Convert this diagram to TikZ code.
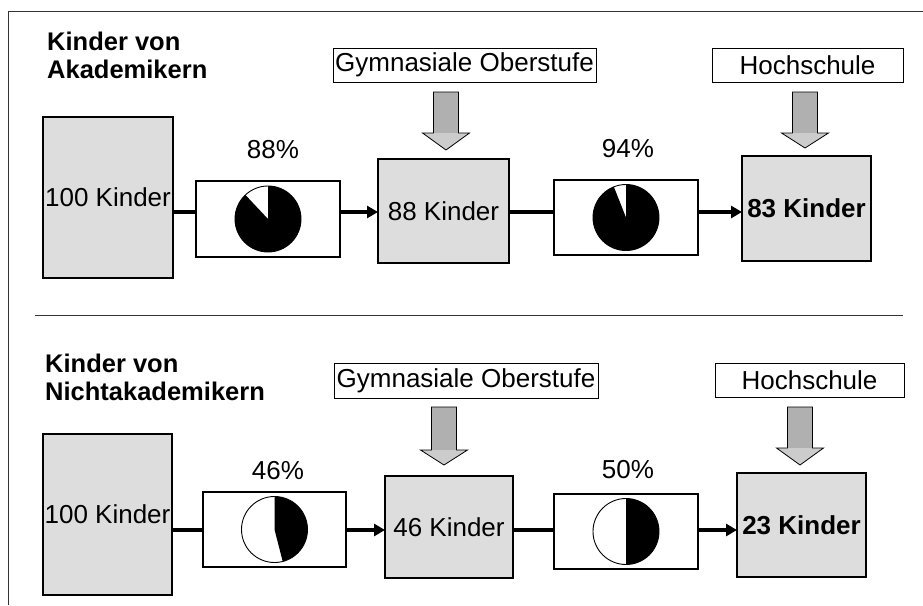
\documentclass[tikz,border=0pt]{standalone}
\usepackage{fontspec}
\setmainfont{Liberation Sans}
\usetikzlibrary{arrows.meta}
\tikzset{
  txt/.style={font=\fontsize{26}{29}\selectfont, inner sep=0pt},
  boldtxt/.style={font=\fontsize{26}{29}\selectfont\bfseries},
  titletxt/.style={font=\fontsize{25.5}{28}\selectfont\bfseries, inner sep=0pt, anchor=base west, align=left},
  graybox/.style={draw=black, line width=1.1pt, fill=gray!27, inner sep=0pt, outer sep=0pt, txt},
  piebox/.style={draw=black, line width=1.1pt, fill=white, inner sep=0pt, outer sep=0pt},
  labelbox/.style={draw=black, line width=1pt, fill=white, inner sep=0pt, outer sep=0pt, txt},
  conn/.style={line width=3.4pt, black},
  connarrow/.style={conn, -{Triangle[length=11pt,width=12pt]}},
  frame/.style={line width=0.9pt, black!80},
}
\newcommand{\fatarrow}[5]{% cx, ytop, yhead, ytip, name
  \coordinate (#5) at (#1,#4);
  \fill[gray!62] (#1-12.5,#2) rectangle (#1+12.5,#3);
  \fill[gray!40] (#1-23.5,#3) -- (#1+23.5,#3) -- (#1,#4) -- cycle;
  \draw[black, line width=0.8pt] (#1-12.5,#2) -- (#1+12.5,#2) -- (#1+12.5,#3) -- (#1+23.5,#3) -- (#1,#4) -- (#1-23.5,#3) -- (#1-12.5,#3) -- cycle;
}
\newcommand{\piechart}[2]{% node, percent
  \fill[white] (#1.center) circle[radius=33];
  \fill[black] (#1.center) -- ++(90:33) arc[start angle=90, end angle={90-3.6*#2}, radius=33] -- cycle;
  \draw[black, line width=0.9pt] (#1.center) circle[radius=33];
}
\begin{document}
\begin{tikzpicture}[x=1pt,y=1pt]
\useasboundingbox (0,0) rectangle (923,-605);
% frame
\draw[frame] (923,-11) -- (8,-11) -- (8,-605);
\draw[frame] (35,-315) -- (903,-315);

% ---------- top section ----------
\node[titletxt] (t1) at (47,-78) {Kinder von\\Akademikern};
\node[labelbox, minimum width=263, minimum height=34] (gym1) at (464.5,-65) {Gymnasiale Oberstufe};
\node[labelbox, minimum width=191, minimum height=34] (hoch1) at (807.5,-65) {Hochschule};
\node[graybox, minimum width=130, minimum height=161] (k100a) at (108,-197.5) {100 Kinder};
\node[piebox, minimum width=144, minimum height=76] (pa1) at (268,-219) {};
\node[graybox, minimum width=131, minimum height=104] (k88) at (443.5,-211) {88 Kinder};
\node[piebox, minimum width=144, minimum height=75] (pa2) at (626,-217.5) {};
\node[graybox, boldtxt, minimum width=129, minimum height=105] (k83) at (806.5,-208.5) {83 Kinder};
\node[txt, anchor=base] (pc1) at (273,-158) {88\%};
\node[txt, anchor=base] (pc2) at (628,-157) {94\%};
\piechart{pa1}{88}
\piechart{pa2}{94}
\fatarrow{446}{-92}{-133}{-150}{fa1}
\fatarrow{805}{-92}{-133}{-148}{fa2}
\draw[conn] (k100a.east |- 0,-212) -- (pa1.west |- 0,-212);
\draw[connarrow] (pa1.east |- 0,-212) -- (k88.west |- 0,-212);
\draw[conn] (k88.east |- 0,-212) -- (pa2.west |- 0,-212);
\draw[connarrow] (pa2.east |- 0,-212) -- (k83.west |- 0,-212);

% ---------- bottom section ----------
\node[titletxt] (t2) at (45,-400) {Kinder von\\Nichtakademikern};
\node[labelbox, minimum width=264, minimum height=35] (gym2) at (466,-380.5) {Gymnasiale Oberstufe};
\node[labelbox, minimum width=189, minimum height=34] (hoch2) at (809.5,-380) {Hochschule};
\node[graybox, minimum width=129, minimum height=161] (k100b) at (107.5,-514.5) {100 Kinder};
\node[piebox, minimum width=143, minimum height=75] (pb1) at (274.5,-529.5) {};
\node[graybox, minimum width=128, minimum height=102] (k46) at (449,-527) {46 Kinder};
\node[piebox, minimum width=144, minimum height=75] (pb2) at (626,-531.5) {};
\node[graybox, boldtxt, minimum width=129, minimum height=104] (k23) at (801.5,-525) {23 Kinder};
\node[txt, anchor=base] (pc3) at (278,-479) {46\%};
\node[txt, anchor=base] (pc4) at (628,-478) {50\%};
\piechart{pb1}{46}
\piechart{pb2}{50}
\fatarrow{444}{-407}{-450}{-465}{fa3}
\fatarrow{800}{-407}{-448}{-465}{fa4}
\draw[conn] (k100b.east |- 0,-530) -- (pb1.west |- 0,-530);
\draw[connarrow] (pb1.east |- 0,-530) -- (k46.west |- 0,-530);
\draw[conn] (k46.east |- 0,-530) -- (pb2.west |- 0,-530);
\draw[connarrow] (pb2.east |- 0,-530) -- (k23.west |- 0,-530);
\end{tikzpicture}
\end{document}
